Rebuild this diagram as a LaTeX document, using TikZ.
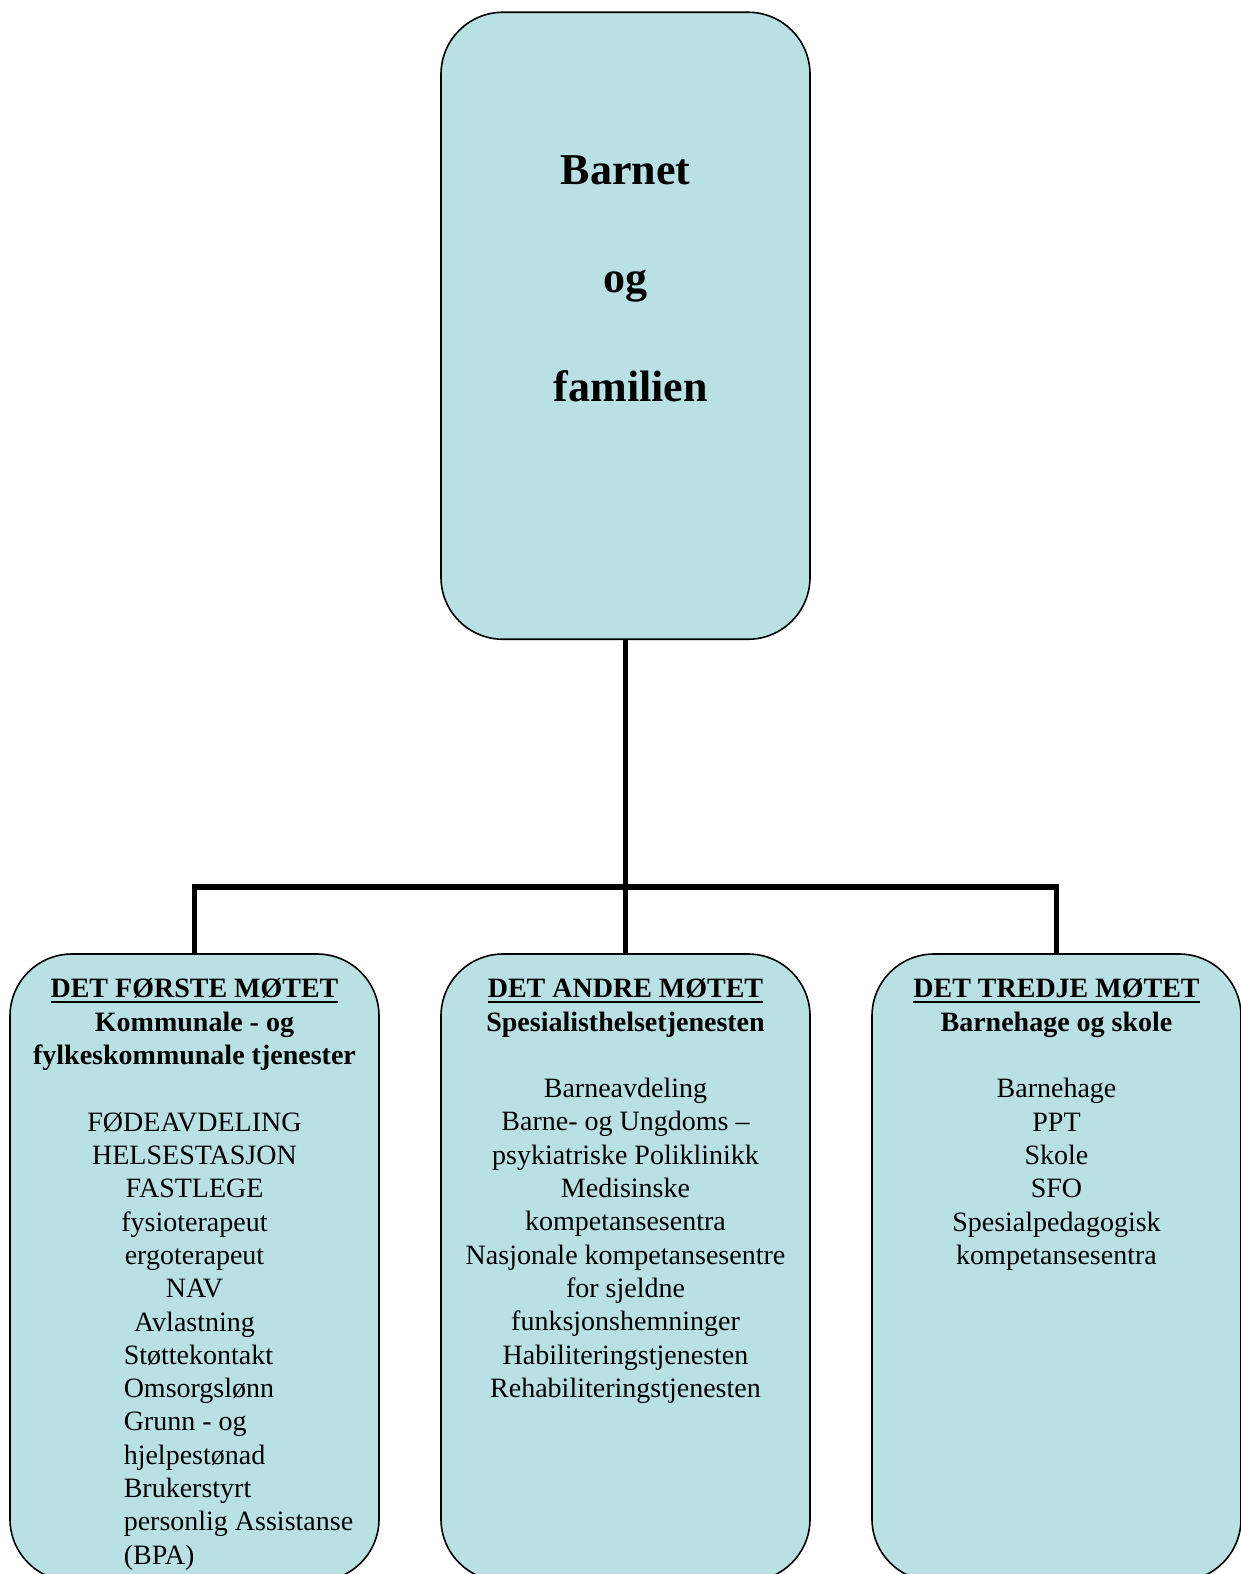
\documentclass[tikz,border=0pt]{standalone}
\usepackage{fontspec}
\setmainfont{Liberation Serif}
\definecolor{boxfill}{RGB}{185,224,227}
\newcommand{\myul}[1]{\setbox0\hbox{#1}\rlap{\rule[-3.6pt]{\wd0}{1.3pt}}\box0}
\begin{document}
\begin{tikzpicture}[x=0.75pt,y=-0.75pt,
  box/.style={draw=black, line width=1.2pt, fill=boxfill, rounded corners=46.5pt,
    minimum width=276.75pt, minimum height=470.25pt, inner sep=0pt},
  conn/.style={line width=4.3pt},
  txt/.style={inner sep=0pt, align=center, font=\fontsize{21}{25}\selectfont},
  txtl/.style={inner sep=0pt, align=left, font=\fontsize{21}{25}\selectfont},
  bigtxt/.style={inner sep=0pt, align=center, font=\fontsize{33}{81.5}\selectfont\bfseries}]
\useasboundingbox (0,0) rectangle (1241,1574);
\clip (0,0) rectangle (1241,1574);
% boxes
\node[box] (top) at (625.5,325.75) {};
\node[box] (left) at (194.5,1267.5) {};
\node[box] (mid) at (625.5,1267.5) {};
\node[box] (right) at (1056.5,1267.5) {};
% connectors
\coordinate (bar) at (625.5,887);
\draw[conn] (top.south) -- (mid.north);
\draw[conn] (left.north) -- (left.north |- bar) -- (right.north |- bar) -- (right.north);
% top text (anchor base = baseline of last line)
\node[bigtxt, anchor=base] (toptxt) at (625.5,401.5) {Barnet\\og\\\hspace*{8pt}familien};
% left box
\node[txt, anchor=base] (lhead) at (194.5,1064.6) {\bfseries\myul{DET FØRSTE MØTET}\\\bfseries Kommunale - og\\\bfseries fylkeskommunale tjenester};
\node[txt, anchor=base] (llist) at (194.5,1331) {FØDEAVDELING\\HELSESTASJON\\FASTLEGE\\fysioterapeut\\ergoterapeut\\NAV\\Avlastning};
\node[txtl, anchor=base west] (llist2) at (123.5,1564.1) {Støttekontakt\\Omsorgslønn\\Grunn - og\\hjelpestønad\\Brukerstyrt\\personlig Assistanse\\(BPA)};
% middle box
\node[txt, anchor=base] (mhead) at (625.5,1031.3) {\bfseries\myul{DET ANDRE MØTET}\\\bfseries Spesialisthelsetjenesten};
\node[txt, anchor=base] (mlist) at (625.5,1397.6) {Barneavdeling\\Barne- og Ungdoms –\\psykiatriske Poliklinikk\\Medisinske\\kompetansesentra\\Nasjonale kompetansesentre\\for sjeldne\\funksjonshemninger\\Habiliteringstjenesten\\Rehabiliteringstjenesten};
% right box
\node[txt, anchor=base] (rhead) at (1056.5,1031.3) {\bfseries\myul{DET TREDJE MØTET}\\\bfseries Barnehage og skole};
\node[txt, anchor=base] (rlist) at (1056.5,1264.4) {Barnehage\\PPT\\Skole\\SFO\\Spesialpedagogisk\\kompetansesentra};
\end{tikzpicture}
\end{document}
